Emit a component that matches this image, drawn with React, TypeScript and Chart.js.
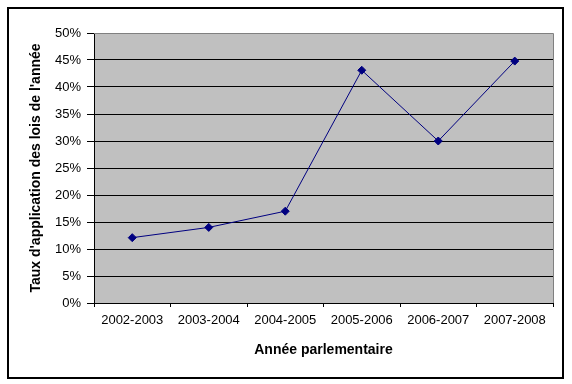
import React, { useEffect, useRef } from "react";
import { Chart, registerables } from "chart.js";

Chart.register(...registerables);

const categories = ["2002-2003", "2003-2004", "2004-2005", "2005-2006", "2006-2007", "2007-2008"];
const rates = [12.1, 14, 17, 43.1, 30, 44.8];
const yTickValues = [0, 5, 10, 15, 20, 25, 30, 35, 40, 45, 50];
const yTitle = "Taux d'application des lois de l'année";
const xTitle = "Année parlementaire";

const FONT = "'Liberation Sans', Arial, sans-serif";

const framePlugin = {
  id: "frame",
  beforeDraw(chart: any) {
    const { ctx, chartArea } = chart;
    ctx.save();
    ctx.fillStyle = "#ffffff";
    ctx.fillRect(0, 0, chart.width, chart.height);
    ctx.fillStyle = "#C0C0C0";
    ctx.fillRect(chartArea.left, chartArea.top, chartArea.right - chartArea.left, chartArea.bottom - chartArea.top);
    ctx.restore();
  },
  afterDraw(chart: any) {
    const { ctx, chartArea } = chart;
    ctx.save();
    ctx.strokeStyle = "#808080";
    ctx.lineWidth = 1;
    ctx.beginPath();
    ctx.moveTo(chartArea.left, chartArea.top + 0.5);
    ctx.lineTo(chartArea.right + 0.5, chartArea.top + 0.5);
    ctx.lineTo(chartArea.right + 0.5, chartArea.bottom);
    ctx.stroke();
    ctx.strokeStyle = "#000000";
    ctx.lineWidth = 2;
    ctx.strokeRect(8, 8, 555, 370);
    ctx.restore();
  },
};

export default function App() {
  const ref = useRef<HTMLCanvasElement | null>(null);
  useEffect(() => {
    if (!ref.current) return;
    const chart = new Chart(ref.current, {
      type: "line",
      data: {
        labels: categories,
        datasets: [
          {
            data: rates,
            borderColor: "#000080",
            backgroundColor: "#000080",
            borderWidth: 1,
            pointStyle: "rectRot",
            pointRadius: 4,
            pointBorderWidth: 1,
            pointHoverRadius: 4,
            tension: 0,
          },
        ],
      },
      options: {
        animation: false,
        responsive: false,
        maintainAspectRatio: false,
        events: [],
        layout: { padding: { left: 0, top: 33, right: 19, bottom: 0 } },
        plugins: { legend: { display: false }, tooltip: { enabled: false } },
        scales: {
          x: {
            type: "category",
            offset: true,
            afterFit: (s: any) => {
              s.height = 81;
            },
            grid: {
              offset: true,
              drawOnChartArea: false,
              drawTicks: true,
              tickLength: 4,
              tickColor: "#000000",
              color: "#000000",
            },
            border: { display: true, color: "#000000", width: 1 },
            ticks: {
              color: "#000000",
              font: { family: FONT, size: 13 },
              padding: 6,
              maxRotation: 0,
              autoSkip: false,
            },
            title: {
              display: true,
              text: xTitle,
              color: "#000000",
              font: { family: FONT, size: 14, weight: "bold" },
              padding: { top: 0, bottom: 25 },
            },
          },
          y: {
            min: 0,
            max: 50,
            afterFit: (s: any) => {
              s.width = 94;
            },
            afterBuildTicks: (s: any) => {
              s.ticks = yTickValues.map((v) => ({ value: v }));
            },
            grid: {
              color: (c: any) => (c.tick && c.tick.value === 50 ? "#808080" : "#000000"),
              tickColor: "#000000",
              tickLength: 7,
              lineWidth: 1,
            },
            border: { display: true, color: "#000000", width: 1 },
            ticks: {
              color: "#000000",
              font: { family: FONT, size: 13 },
              padding: 6,
              callback: (v: any) => v + "%",
            },
            title: {
              display: true,
              text: yTitle,
              color: "#000000",
              font: { family: FONT, size: 14, weight: "bold" },
              padding: { top: 28, bottom: 0 },
            },
          },
        },
      },
      plugins: [framePlugin],
    } as any);
    return () => chart.destroy();
  }, []);
  return (
    <div style={{ position: "fixed", left: 0, top: 0, width: 572, height: 384, background: "#fff" }}>
      <canvas ref={ref} width={572} height={384} style={{ width: 572, height: 384, display: "block" }} />
    </div>
  );
}
